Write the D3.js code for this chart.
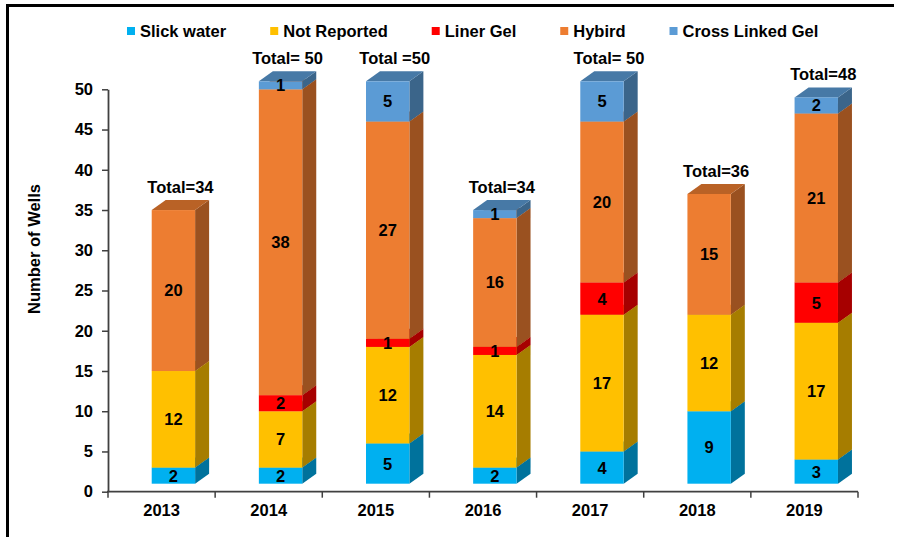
<!DOCTYPE html>
<html>
<head>
<meta charset="utf-8">
<script src="https://cdn.jsdelivr.net/npm/d3@7"></script>
<style>
  body { margin: 0; background: #fff; }
  text { font-family: Arial, "Liberation Sans", sans-serif; font-weight: bold; fill: #000; }
</style>
</head>
<body>
<script>
// data
var years = ["2013", "2014", "2015", "2016", "2017", "2018", "2019"];
var seriesNames = ["Slick water", "Not Reported", "Liner Gel", "Hybird", "Cross Linked Gel"];
var slickWater = [2, 2, 5, 2, 4, 9, 3];
var notReported = [12, 7, 12, 14, 17, 12, 17];
var linerGel = [0, 2, 1, 1, 4, 0, 5];
var hybird = [20, 38, 27, 16, 20, 15, 21];
var crossLinked = [0, 1, 5, 1, 5, 0, 2];
var totalLabels = ["Total=34", "Total= 50", "Total =50", "Total=34", "Total= 50", "Total=36", "Total=48"];
var yTicks = [0, 5, 10, 15, 20, 25, 30, 35, 40, 45, 50];
var colors = ["#00B0F0", "#FFC000", "#FF0000", "#ED7D31", "#5B9BD5"];

var svgWidth = 899, svgHeight = 537;
var depthX = 14, depthY = 10, lift = 8;
var fs = "16.5px";

var svg = d3.select("body").append("svg")
  .attr("width", svgWidth)
  .attr("height", svgHeight);

// frame (left and top lines only)
svg.append("line").attr("x1", 7.5).attr("x2", 7.5).attr("y1", 4).attr("y2", svgHeight)
  .attr("stroke", "#000").attr("stroke-width", 3);
svg.append("line").attr("x1", 6).attr("x2", 894).attr("y1", 5.5).attr("y2", 5.5)
  .attr("stroke", "#000").attr("stroke-width", 3);

// build the table
var table = years.map(function(y, i) {
  return {
    year: y,
    "Slick water": slickWater[i],
    "Not Reported": notReported[i],
    "Liner Gel": linerGel[i],
    "Hybird": hybird[i],
    "Cross Linked Gel": crossLinked[i]
  };
});
var stacked = d3.stack().keys(seriesNames)(table);

var x = d3.scaleBand().domain(years).range([108, 858]);
var y = d3.scaleLinear().domain([0, 50]).range([491.7, 89.3]);
var color = d3.scaleOrdinal().domain(seriesNames).range(colors);

function shade(c, k) {
  var r = d3.rgb(c);
  return d3.rgb(r.r * k, r.g * k, r.b * k).formatHex();
}

var barLeft = function(yr) { return x(yr) + x.bandwidth() * 0.408; };
var barW = x.bandwidth() * 0.405;

// y axis
var yAxis = svg.append("g")
  .attr("transform", "translate(108,0)")
  .call(d3.axisLeft(y).tickValues(yTicks).tickSize(6).tickSizeOuter(0).tickPadding(9));
yAxis.select(".domain").attr("stroke", "#404040").attr("stroke-width", 1.8);
yAxis.selectAll(".tick line").attr("stroke", "#404040").attr("stroke-width", 1.5);
yAxis.selectAll(".tick text").style("font-size", fs).attr("fill", "#000");

// x axis line and boundary ticks
svg.append("line").attr("x1", 107).attr("x2", 858).attr("y1", y(0)).attr("y2", y(0))
  .attr("stroke", "#404040").attr("stroke-width", 1.8);
var bounds = years.map(function(d) { return x(d); }).concat([x.range()[1]]);
svg.selectAll(".xtick").data(bounds).enter().append("line")
  .attr("class", "xtick")
  .attr("x1", function(d) { return d; }).attr("x2", function(d) { return d; })
  .attr("y1", y(0)).attr("y2", y(0) + 6)
  .attr("stroke", "#404040").attr("stroke-width", 1.5);

var xAxis = svg.append("g")
  .attr("transform", "translate(0," + y(0) + ")")
  .call(d3.axisBottom(x).tickSize(0).tickPadding(13));
xAxis.select(".domain").remove();
xAxis.selectAll(".tick text").style("font-size", fs).attr("fill", "#000");

// axis title
svg.append("text")
  .attr("transform", "translate(40,249) rotate(-90)")
  .attr("text-anchor", "middle")
  .style("font-size", fs)
  .text("Number of Wells");

// 3D stacked bars
stacked.forEach(function(layer) {
  var c = color(layer.key);
  var g = svg.append("g").attr("class", "layer");
  layer.forEach(function(d, i) {
    if (d[1] - d[0] <= 0) return;
    var yr = years[i];
    var x0 = barLeft(yr), x1 = x0 + barW;
    var yTop = y(d[1]) - lift, yBot = y(d[0]) - lift;
    // side
    g.append("path")
      .attr("d", "M" + x1 + "," + yBot + "L" + (x1 + depthX) + "," + (yBot - depthY) +
        "L" + (x1 + depthX) + "," + (yTop - depthY) + "L" + x1 + "," + yTop + "Z")
      .attr("fill", shade(c, 0.65));
    // top
    g.append("path")
      .attr("d", "M" + x0 + "," + yTop + "L" + (x0 + depthX) + "," + (yTop - depthY) +
        "L" + (x1 + depthX) + "," + (yTop - depthY) + "L" + x1 + "," + yTop + "Z")
      .attr("fill", shade(c, 0.78));
    // front
    g.append("rect")
      .attr("x", x0).attr("y", yTop)
      .attr("width", barW).attr("height", yBot - yTop)
      .attr("fill", c);
  });
});

// value labels
stacked.forEach(function(layer) {
  layer.forEach(function(d, i) {
    var v = d[1] - d[0];
    if (v <= 0) return;
    var yr = years[i];
    svg.append("text")
      .attr("x", barLeft(yr) + barW / 2)
      .attr("y", (y(d[1]) + y(d[0])) / 2 - lift)
      .attr("dy", "0.36em")
      .attr("text-anchor", "middle")
      .style("font-size", fs)
      .text(v);
  });
});

// total labels
var topLayer = stacked[stacked.length - 1];
svg.selectAll(".total").data(years).enter().append("text")
  .attr("class", "total")
  .attr("x", function(d) { return barLeft(d) + (barW + depthX) / 2; })
  .attr("y", function(d, i) { return y(topLayer[i][1]) - lift - depthY - 7; })
  .attr("text-anchor", "middle")
  .style("font-size", fs)
  .text(function(d, i) { return totalLabels[i]; });

// legend
var lx = 127;
seriesNames.forEach(function(name) {
  svg.append("rect").attr("x", lx).attr("y", 27).attr("width", 8).attr("height", 8)
    .attr("fill", color(name));
  var t = svg.append("text").attr("x", lx + 13).attr("y", 37)
    .style("font-size", fs).text(name);
  lx += 13 + t.node().getComputedTextLength() + 44;
});
</script>
</body>
</html>
